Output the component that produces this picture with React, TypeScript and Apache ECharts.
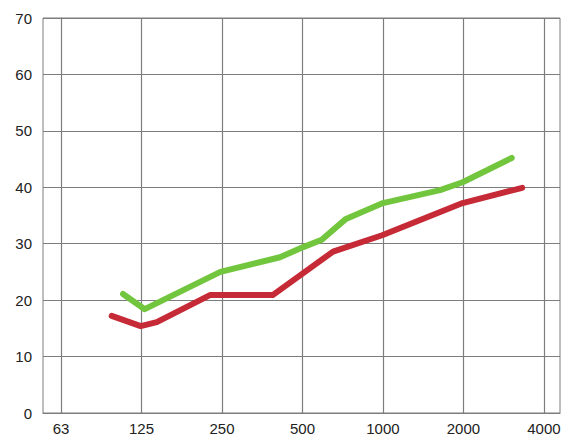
import React, { useEffect, useRef } from "react";
import * as echarts from "echarts";

// Octave band labels (x index 0..6)
const bandLabels = ["63", "125", "250", "500", "1000", "2000", "4000"];
const bandIndex = [0, 1, 2, 3, 4, 5, 6];
const yTicks = [0, 10, 20, 30, 40, 50, 60, 70];

// Red curve: [octave index, dB]
const redX = [0.63, 0.99, 1.19, 1.85, 2.63, 3.38, 3.99, 4.99, 5.73];
const redY = [17.2, 15.4, 16.1, 20.9, 20.9, 28.6, 31.5, 37.2, 39.9];

// Green curve: [octave index, dB]
const greenX = [0.77, 1.04, 1.98, 2.72, 3.01, 3.24, 3.54, 4.0, 4.71, 4.99, 5.6];
const greenY = [21.1, 18.4, 25.0, 27.6, 29.4, 30.7, 34.4, 37.2, 39.5, 40.9, 45.2];

const zip = (xs: number[], ys: number[]) => xs.map((x, i) => [x, ys[i]]);

export default function App() {
  const ref = useRef<HTMLDivElement>(null);
  useEffect(() => {
    if (!ref.current) return;
    const chart = echarts.init(ref.current, undefined, { renderer: "svg" });
    const gridColor = "#7d7d7d";
    chart.setOption({
      animation: false,
      backgroundColor: "#ffffff",
      textStyle: { fontFamily: "Liberation Sans, Arial, sans-serif" },
      grid: {
        left: 43,
        right: 10,
        top: 18,
        bottom: 23,
        show: true,
        borderColor: gridColor,
        borderWidth: 1,
      },
      xAxis: {
        type: "value",
        min: -0.224,
        max: 6.2,
        axisLine: { show: true, lineStyle: { color: gridColor, width: 1 } },
        axisTick: { show: false, customValues: bandIndex },
        axisLabel: {
          customValues: bandIndex,
          formatter: (v: number) => bandLabels[Math.round(v)] ?? "",
          color: "#222",
          fontSize: 15,
          margin: 8,
        },
        splitLine: {
          show: true,
          customValues: bandIndex,
          lineStyle: { color: gridColor, width: 1.2 },
        },
      },
      yAxis: {
        type: "value",
        min: yTicks[0],
        max: yTicks[yTicks.length - 1],
        interval: 10,
        axisLine: { show: true, lineStyle: { color: gridColor, width: 1 } },
        axisTick: { show: false },
        axisLabel: { color: "#222", fontSize: 15, margin: 11 },
        splitLine: { show: true, lineStyle: { color: gridColor, width: 1.2 } },
      },
      series: [
        {
          type: "line",
          data: zip(redX, redY),
          showSymbol: false,
          symbol: "none",
          lineStyle: { color: "#c62a36", width: 6, cap: "round", join: "round" },
          z: 3,
        },
        {
          type: "line",
          data: zip(greenX, greenY),
          showSymbol: false,
          symbol: "none",
          lineStyle: { color: "#72c63e", width: 6, cap: "round", join: "round" },
          z: 4,
        },
      ],
    });
    return () => chart.dispose();
  }, []);
  return (
    <div
      ref={ref}
      style={{ position: "fixed", left: 0, top: 0, width: 570, height: 436 }}
    />
  );
}
